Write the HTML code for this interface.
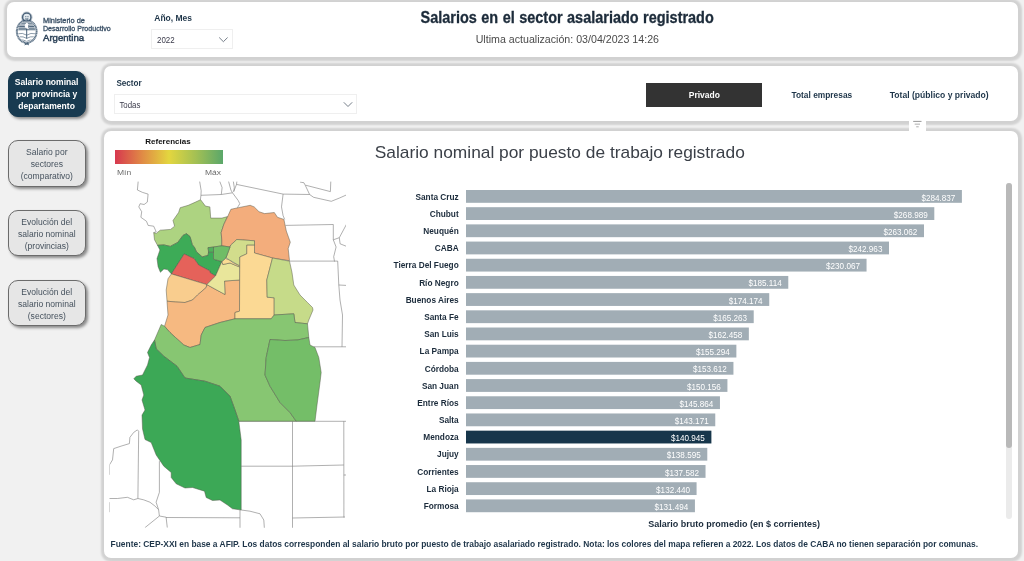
<!DOCTYPE html>
<html lang="es"><head><meta charset="utf-8"><title>Salarios en el sector asalariado registrado</title>
<style>
*{box-sizing:border-box;margin:0;padding:0}
html,body{width:1024px;height:561px;overflow:hidden}
body{background:#f1f1f1;font-family:"Liberation Sans",sans-serif;position:relative}
.panel{position:absolute;background:#fff;border-radius:7px;box-shadow:0.5px 0.5px 2px 3.2px rgba(0,0,0,.13)}
.nav{position:absolute;left:8.2px;width:77.4px;height:46.3px;border-radius:10px;background:#e6e6e6;border:1px solid #6b6b6b;box-shadow:2px 2px 3px #8a8a8a}
.nav.on{background:#183a50;border-color:#183a50}
.dd{position:absolute;border:1px solid #efefef;background:#fff}
svg{position:absolute;left:0;top:0}
</style></head><body>
<div class="panel" style="left:7px;top:2px;width:1011px;height:54.5px"></div>
<div class="panel" style="left:103.5px;top:66px;width:914.5px;height:55px"></div>
<div class="panel" style="left:103.5px;top:131.2px;width:914.5px;height:426.8px"></div>
<div class="nav on" style="top:70.5px;height:46.6px"></div>
<div class="nav" style="top:140.3px"></div>
<div class="nav" style="top:210px"></div>
<div class="nav" style="top:279.8px"></div>
<div class="dd" style="left:151.4px;top:29px;width:81.6px;height:19.8px"></div>
<div class="dd" style="left:114px;top:94.2px;width:243px;height:19.6px"></div>
<div style="position:absolute;left:646.4px;top:83px;width:115.6px;height:23.5px;background:#333"></div>
<div style="position:absolute;left:909px;top:117px;width:17px;height:18px;background:#fff"></div>
<div style="position:absolute;left:114.8px;top:149.6px;width:108.6px;height:14px;background:linear-gradient(90deg,#d7384f 0%,#e08a45 25%,#e3d63f 50%,#a3c054 75%,#5aa76a 100%)"></div>
<div style="position:absolute;left:1006.2px;top:183.2px;width:6px;height:336px;border-radius:3px;background:#ebebeb"></div>
<div style="position:absolute;left:1006.2px;top:183.2px;width:6px;height:265.3px;border-radius:3px;background:#b9b9b9"></div>
<svg width="1024" height="561" viewBox="0 0 1024 561">
<defs><clipPath id="mc"><rect x="109.5" y="181.4" width="236.5" height="346.4"/></clipPath></defs>
<g><rect x="466" y="190.00" width="495.90" height="12.8" fill="#a1adb5"/><rect x="466" y="207.19" width="468.31" height="12.8" fill="#a1adb5"/><rect x="466" y="224.38" width="457.99" height="12.8" fill="#a1adb5"/><rect x="466" y="241.57" width="423.00" height="12.8" fill="#a1adb5"/><rect x="466" y="258.76" width="400.55" height="12.8" fill="#a1adb5"/><rect x="466" y="275.95" width="322.28" height="12.8" fill="#a1adb5"/><rect x="466" y="293.14" width="303.24" height="12.8" fill="#a1adb5"/><rect x="466" y="310.33" width="287.72" height="12.8" fill="#a1adb5"/><rect x="466" y="327.52" width="282.84" height="12.8" fill="#a1adb5"/><rect x="466" y="344.71" width="270.37" height="12.8" fill="#a1adb5"/><rect x="466" y="361.90" width="267.44" height="12.8" fill="#a1adb5"/><rect x="466" y="379.09" width="261.42" height="12.8" fill="#a1adb5"/><rect x="466" y="396.28" width="253.95" height="12.8" fill="#a1adb5"/><rect x="466" y="413.47" width="249.26" height="12.8" fill="#a1adb5"/><rect x="466" y="430.66" width="245.39" height="12.8" fill="#17364b"/><rect x="466" y="447.85" width="241.29" height="12.8" fill="#a1adb5"/><rect x="466" y="465.04" width="239.53" height="12.8" fill="#a1adb5"/><rect x="466" y="482.23" width="230.58" height="12.8" fill="#a1adb5"/><rect x="466" y="499.42" width="228.93" height="12.8" fill="#a1adb5"/></g>
<g clip-path="url(#mc)">
<g fill="none" stroke="#7a7a7a" stroke-width="0.6" stroke-linejoin="round"><polyline points="138.2,181.2 137.4,190.0 142.5,192.4 148.1,194.1 147.3,202.1 144.1,204.5 140.1,203.7 138.8,206.9 141.7,211.7 140.9,217.3 146.5,221.3 148.1,225.4 153.7,226.2 156.2,231.8 153.7,232.6"/><polyline points="199.6,181.2 201.2,190.8 200.9,195.7 200.4,199.7"/><polyline points="200.9,195.3 221.3,194.5 232.5,192.8 238.2,200.5 239.8,203.7 237.4,207.7"/><polyline points="219.7,181.2 222.1,187.6 221.3,194.5"/><polyline points="228.5,181.2 230.9,190.0 232.5,192.8"/><polyline points="233.3,181.2 234.3,187.6 233.7,191.6 236.5,184.4 236.9,181.2"/><polyline points="236.5,184.4 283.1,194.1 309.6,194.5 313.6,197.3 331.3,201.3 339.3,198.1 346.5,194.9"/><polyline points="283.1,194.1 281.5,206.9 283.1,215.7 284.7,219.4"/><polyline points="300.0,182.0 304.0,182.8 305.6,186.0 309.6,194.5"/><polyline points="305.6,185.2 330.4,191.6 330.8,181.2"/><polyline points="285.5,225.4 333.3,224.5 333.3,239.8 336.1,247.0 333.7,256.7 334.5,261.5"/><polyline points="333.3,239.8 339.3,237.7 348.1,221.3"/><polyline points="339.3,237.7 340.1,243.8 348.1,247.0"/><polyline points="289.5,261.1 337.7,261.1 338.8,285.0 340.0,300.0 342.5,315.0 342.0,346.8"/><polyline points="338.8,285.0 348.0,285.5"/><polyline points="313.6,346.8 348.0,346.8"/><polyline points="238.8,421.3 348.0,421.3"/><polyline points="292.5,421.3 292.5,530.0"/><polyline points="343.8,421.3 343.9,517.5"/><polyline points="241.2,466.2 292.5,466.2 343.8,465.0"/><polyline points="343.8,475.0 346.0,475.0"/><polyline points="292.5,518.0 345.0,517.0"/><polyline points="241.2,510.0 250.0,511.2 260.0,513.8 263.8,520.0 264.5,530.0"/><polyline points="240.0,510.0 240.0,530.0"/><polyline points="166.0,517.5 240.0,517.8"/><polyline points="159.4,461.1 159.4,492.3 156.1,502.2 158.6,509.7 159.4,516.0 144.9,527.7"/><polyline points="159.4,516.0 166.1,517.2 167.3,527.7"/><polyline points="137.9,498.5 138.7,431.2 137.4,429.9 133.7,432.4 129.9,437.4 129.4,443.6 121.2,446.1 113.7,448.6 112.5,459.9 109.5,464.8 109.5,474.8"/><polyline points="107.5,498.5 117.5,498.5 127.4,497.3 133.7,499.8 137.9,498.5 143.6,499.8 149.9,502.2 154.9,506.0 158.6,509.7"/><polyline points="109.5,502.2 109.5,512.2"/></g>
<g stroke="#55564a" stroke-opacity="0.8" stroke-width="0.6" stroke-linejoin="round"><polygon points="153.7,232.6 156.2,233.4 160.2,230.2 170.6,229.4 174.6,226.2 173.0,220.5 178.6,212.5 180.2,207.7 188.3,205.3 195.5,202.1 200.6,199.7 205.4,206.1 209.9,206.9 210.7,218.1 222.0,218.1 227.6,216.5 223.8,224.5 221.2,232.5 221.8,240.0 221.8,245.8 214.0,247.0 208.0,247.8 208.8,251.8 208.0,255.4 202.2,256.9 196.4,251.7 194.6,247.6 192.3,244.7 190.0,236.6 186.5,233.7 183.0,235.4 177.8,242.4 170.3,246.4 163.9,244.9 157.5,245.3 154.5,239.8" fill="#add381"/><polygon points="227.7,216.5 230.9,209.3 238.2,207.7 250.2,205.3 254.2,206.9 259.0,211.7 264.6,213.6 274.3,212.5 277.5,217.3 283.9,219.4 286.3,231.0 290.3,242.2 288.2,248.6 289.5,260.7 272.5,258.0 254.5,253.0 254.5,240.8 236.8,239.5 230.8,245.0 230.0,247.0 221.8,245.8 221.8,240.0 221.2,232.5 223.8,224.5" fill="#f3ad7c"/><polygon points="157.5,245.3 163.9,244.9 170.3,246.4 177.8,242.4 183.0,235.4 186.5,233.7 190.0,236.6 192.3,244.7 194.6,247.6 196.4,251.7 202.2,256.9 208.0,255.4 208.5,252.2 213.5,252.2 213.5,259.2 221.9,261.5 215.5,276.0 210.3,272.8 209.7,270.8 198.7,265.0 194.0,258.6 184.2,254.0 171.4,273.9 167.4,269.6 163.9,269.0 160.4,272.3 158.1,266.7 157.0,258.6 159.9,249.9" fill="#3dab57"/><polygon points="184.2,254.0 194.0,258.6 198.7,265.0 209.7,270.8 210.3,272.8 215.5,276.0 206.8,284.6 171.4,273.9" fill="#e5625a"/><polygon points="171.4,273.9 206.8,284.6 206.2,287.5 197.5,295.0 192.5,300.0 185.0,302.5 175.5,302.0 167.0,301.2 166.2,290.0 168.0,278.8" fill="#f9cd8e"/><polygon points="206.8,284.6 225.0,294.5 224.5,281.0 239.6,280.0 239.5,311.2 235.0,312.5 235.0,318.8 220.0,322.5 205.0,327.5 201.2,335.0 200.0,344.5 190.0,347.5 183.8,345.0 175.5,337.5 170.0,332.5 164.5,326.2 168.0,315.0 167.0,301.2 175.5,302.0 185.0,302.5 192.5,300.0 197.5,295.0 206.2,287.5" fill="#f6b981"/><polygon points="222.8,264.5 230.0,263.0 239.6,267.0 239.6,280.0 224.5,281.0 225.0,294.5 206.8,284.6 215.5,276.0 221.9,261.5" fill="#e9e69b"/><polygon points="225.5,258.5 229.5,260.0 232.8,262.5 239.6,265.8 239.6,267.0 230.0,263.0 222.8,264.5 221.9,261.5" fill="#fbdc93"/><polygon points="230.8,245.0 236.8,239.5 254.5,240.8 254.5,245.2 246.8,245.2 246.8,253.8 239.8,257.0 239.6,265.8 229.5,260.0 226.0,257.8 230.0,247.0" fill="#d2dd8c"/><polygon points="213.5,247.0 221.8,245.8 230.0,247.0 226.0,257.8 221.9,261.5 213.5,259.2" fill="#6fbd66"/><polygon points="208.0,247.6 213.5,247.0 213.5,252.2 208.5,252.2" fill="#52b05c"/><polygon points="239.8,257.0 246.8,253.8 246.8,245.2 254.5,245.2 254.5,253.0 272.5,258.0 266.8,280.0 267.2,297.2 274.2,297.8 274.2,315.0 271.2,318.8 235.0,318.8 235.0,312.5 239.5,311.2" fill="#fbd994"/><polygon points="272.5,258.0 289.5,261.2 292.0,272.5 293.8,285.0 300.0,295.0 307.5,302.5 312.5,307.5 313.0,310.0 308.8,320.0 307.5,323.8 295.0,322.5 293.8,313.8 274.2,315.0 274.2,297.8 267.2,297.2 266.8,280.0" fill="#c6db89"/><polygon points="161.2,324.5 164.5,326.2 170.0,332.5 175.5,337.5 183.8,345.0 190.0,347.5 200.0,344.5 201.2,335.0 205.0,327.5 220.0,322.5 235.0,318.8 271.2,318.8 274.2,315.0 293.8,313.8 295.0,322.5 307.5,323.8 308.8,337.5 297.5,340.0 285.0,340.5 270.0,339.5 266.2,357.5 265.0,375.0 270.0,386.2 280.0,402.5 290.0,412.5 296.2,421.2 238.8,421.2 235.0,410.0 230.0,396.2 220.0,386.2 205.0,381.2 185.0,378.0 177.0,366.2 163.8,356.2 156.2,348.8 154.5,340.0" fill="#87c672"/><polygon points="308.8,337.5 310.0,345.0 315.0,347.5 318.8,357.5 321.2,372.5 320.0,382.5 317.0,405.0 315.0,421.2 296.2,421.2 290.0,412.5 280.0,402.5 270.0,386.2 265.0,375.0 266.2,357.5 270.0,339.5 285.0,340.5 297.5,340.0" fill="#74be68"/><polygon points="154.5,340.0 156.2,348.8 163.8,356.2 177.0,366.2 185.0,378.0 205.0,381.2 220.0,386.2 230.0,396.2 235.0,410.0 238.8,421.2 241.2,440.0 241.2,510.0 232.5,508.8 227.5,505.0 220.0,500.0 212.5,500.5 206.2,497.5 204.5,491.2 192.5,487.5 185.0,488.0 176.2,483.8 171.2,477.5 171.2,472.5 163.8,466.2 156.2,455.0 151.2,442.5 145.0,439.5 142.5,428.8 142.0,415.0 145.0,410.0 142.0,400.0 143.8,395.0 141.2,385.0 136.2,381.2 133.8,378.8 136.2,376.2 142.5,375.0 147.5,365.0 149.5,357.5 147.5,352.5 151.2,345.0" fill="#3ca856"/></g>
</g>
<g fill="none" stroke="#646e7a" stroke-width="0.9"><path d="M219.2 37.500l4.200 4.200 4.200-4.200"/><path d="M343.800 102.300l4.200 4.200 4.200-4.200"/></g>
<g stroke="#7d7d7d" stroke-width="0.8"><path d="M913.200 121.400h8.300"/><path d="M914.700 124.150h5.300M916.200 126.800h2.500" stroke="#999"/></g>
<g id="logo" fill="none" stroke="#36516a">
<clipPath id="ov"><ellipse cx="26.7" cy="31.3" rx="8.7" ry="10.2"/></clipPath>
<circle cx="26.8" cy="17.2" r="5.3" stroke-width=".7" stroke-dasharray="0.5 0.5" stroke-opacity=".7"/>
<circle cx="26.8" cy="17.2" r="4.2" stroke-width="1.5" stroke-opacity=".9" fill="#e3eaef"/>
<path d="M25.100 16.700h1.300M27.300 16.700h1.300M25.300 18.600q1.500.7 3 0" stroke-width=".7"/>
<ellipse cx="26.7" cy="31.500" rx="9.8" ry="11.2" stroke-width="2.1" stroke-dasharray="1.2 0.3" stroke-opacity=".78"/>
<ellipse cx="26.7" cy="31.3" rx="8.700" ry="10.200" stroke="none" fill="#fff"/>
<g clip-path="url(#ov)" stroke-width="1.05" stroke-opacity=".85"><path d="M17 21.700h20M17 23.300h20M17 24.900h20M17 26.500h20M17 28.100h20M17 29.700h20"/>
<path d="M18 33.800q4.500-1.400 8.700 1.400q4.200-2.800 8.700-1.400M19.500 36.800q3.600-.6 7.200 1.600q3.600-2.200 7.200-1.600M21 39.800q3 .2 5.700 1.600q2.700-1.400 5.700-1.600" stroke-width=".75" stroke-opacity=".75"/></g>
<path d="M26.700 27v11.500" stroke-width=".9"/>
<path d="M25.400 27.300q-1-2.700 1.400-4.200q1.900 1 1.300 2.800q1.300.9.600 2.300q-1.900.5-3.300-.9z" fill="#fff" stroke="#fff" stroke-width="1"/>
<path d="M28.700 25.300v2.500" stroke-width=".8"/>
<path d="M24.600 43l4.400 1.900M29 43l-4.400 1.900" stroke-width=".85"/>
</g>

<g font-family="Liberation Sans, sans-serif">
<text x="43.00" y="22.50" font-size="7" fill="#3a5066" textLength="41.90" lengthAdjust="spacingAndGlyphs" stroke="#3a5066" stroke-width="0.3">Ministerio de</text><text x="43.00" y="30.70" font-size="7" fill="#3a5066" textLength="67.70" lengthAdjust="spacingAndGlyphs" stroke="#3a5066" stroke-width="0.3">Desarrollo Productivo</text><text x="43.00" y="40.50" font-size="8.8" fill="#2c4258" textLength="41.10" lengthAdjust="spacingAndGlyphs" stroke="#2c4258" stroke-width="0.45">Argentina</text><text x="154.30" y="20.60" font-size="9.4" font-weight='700' fill="#1e3549" textLength="37.70" lengthAdjust="spacingAndGlyphs">Año, Mes</text><text x="157.00" y="43.40" font-size="8.8" fill="#3a3a4a" textLength="17.60" lengthAdjust="spacingAndGlyphs">2022</text><text x="420.60" y="23.00" font-size="15.9" font-weight='700' fill="#1c2b3a" textLength="293.20" lengthAdjust="spacingAndGlyphs" word-spacing="0.5" stroke="#1c2b3a" stroke-width="0.3">Salarios en el sector asalariado registrado</text><text x="475.70" y="43.20" font-size="11.3" fill="#4a4a4a" textLength="183.30" lengthAdjust="spacingAndGlyphs">Ultima actualización: 03/04/2023 14:26</text><text x="14.74" y="85.00" font-size="9.2" font-weight='700' fill="#fff" textLength="63.71" lengthAdjust="spacingAndGlyphs">Salario nominal</text><text x="15.93" y="97.20" font-size="9.2" font-weight='700' fill="#fff" textLength="61.33" lengthAdjust="spacingAndGlyphs">por provincia y</text><text x="18.31" y="108.80" font-size="9.2" font-weight='700' fill="#fff" textLength="56.58" lengthAdjust="spacingAndGlyphs">departamento</text><text x="26.11" y="155.00" font-size="9.2" fill="#45515d" textLength="41.38" lengthAdjust="spacingAndGlyphs">Salario por</text><text x="30.63" y="167.00" font-size="9.2" fill="#45515d" textLength="32.34" lengthAdjust="spacingAndGlyphs">sectores</text><text x="20.65" y="179.00" font-size="9.2" fill="#45515d" textLength="52.30" lengthAdjust="spacingAndGlyphs">(comparativo)</text><text x="21.35" y="225.00" font-size="9.2" fill="#45515d" textLength="50.89" lengthAdjust="spacingAndGlyphs">Evolución del</text><text x="18.03" y="237.00" font-size="9.2" fill="#45515d" textLength="57.55" lengthAdjust="spacingAndGlyphs">salario nominal</text><text x="24.69" y="249.00" font-size="9.2" fill="#45515d" textLength="44.22" lengthAdjust="spacingAndGlyphs">(provincias)</text><text x="21.35" y="295.00" font-size="9.2" fill="#45515d" textLength="50.89" lengthAdjust="spacingAndGlyphs">Evolución del</text><text x="18.03" y="307.00" font-size="9.2" fill="#45515d" textLength="57.55" lengthAdjust="spacingAndGlyphs">salario nominal</text><text x="27.78" y="319.00" font-size="9.2" fill="#45515d" textLength="38.04" lengthAdjust="spacingAndGlyphs">(sectores)</text><text x="116.40" y="85.80" font-size="9.4" font-weight='700' fill="#1e3549" textLength="25.30" lengthAdjust="spacingAndGlyphs">Sector</text><text x="119.40" y="107.90" font-size="8.8" fill="#3a3a4a" textLength="21.00" lengthAdjust="spacingAndGlyphs">Todas</text><text x="688.80" y="98.00" font-size="9" font-weight='700' fill="#fff" textLength="31.10" lengthAdjust="spacingAndGlyphs">Privado</text><text x="791.50" y="98.00" font-size="9" font-weight='700' fill="#1e3549" textLength="60.70" lengthAdjust="spacingAndGlyphs">Total empresas</text><text x="889.70" y="98.00" font-size="9" font-weight='700' fill="#1e3549" textLength="99.00" lengthAdjust="spacingAndGlyphs">Total (público y privado)</text><text x="145.30" y="143.60" font-size="7.8" font-weight='700' fill="#111" textLength="45.30" lengthAdjust="spacingAndGlyphs">Referencias</text><text x="117.00" y="174.60" font-size="7.4" fill="#6a6a6a" textLength="14.20" lengthAdjust="spacingAndGlyphs">Mín</text><text x="205.00" y="174.60" font-size="7.4" fill="#6a6a6a" textLength="16.00" lengthAdjust="spacingAndGlyphs">Máx</text><text x="374.80" y="158.00" font-size="16.6" fill="#3b4048" textLength="370.00" lengthAdjust="spacingAndGlyphs">Salario nominal por puesto de trabajo registrado</text><text x="415.47" y="199.60" font-size="8.9" font-weight='700' fill="#1b2b3b" textLength="43.23" lengthAdjust="spacingAndGlyphs">Santa Cruz</text><text x="921.44" y="200.50" font-size="8.5" fill="#fff" textLength="33.86" lengthAdjust="spacingAndGlyphs">$284.837</text><text x="429.74" y="216.79" font-size="8.9" font-weight='700' fill="#1b2b3b" textLength="28.96" lengthAdjust="spacingAndGlyphs">Chubut</text><text x="893.85" y="217.69" font-size="8.5" fill="#fff" textLength="33.86" lengthAdjust="spacingAndGlyphs">$268.989</text><text x="423.29" y="233.98" font-size="8.9" font-weight='700' fill="#1b2b3b" textLength="35.41" lengthAdjust="spacingAndGlyphs">Neuquén</text><text x="883.53" y="234.88" font-size="8.5" fill="#fff" textLength="33.86" lengthAdjust="spacingAndGlyphs">$263.062</text><text x="434.79" y="251.17" font-size="8.9" font-weight='700' fill="#1b2b3b" textLength="23.91" lengthAdjust="spacingAndGlyphs">CABA</text><text x="848.54" y="252.07" font-size="8.5" fill="#fff" textLength="33.86" lengthAdjust="spacingAndGlyphs">$242.963</text><text x="393.54" y="268.36" font-size="8.9" font-weight='700' fill="#1b2b3b" textLength="65.16" lengthAdjust="spacingAndGlyphs">Tierra Del Fuego</text><text x="826.09" y="269.26" font-size="8.5" fill="#fff" textLength="33.86" lengthAdjust="spacingAndGlyphs">$230.067</text><text x="419.15" y="285.55" font-size="8.9" font-weight='700' fill="#1b2b3b" textLength="39.55" lengthAdjust="spacingAndGlyphs">Río Negro</text><text x="748.43" y="286.45" font-size="8.5" fill="#fff" textLength="33.26" lengthAdjust="spacingAndGlyphs">$185.114</text><text x="405.65" y="302.74" font-size="8.9" font-weight='700' fill="#1b2b3b" textLength="53.05" lengthAdjust="spacingAndGlyphs">Buenos Aires</text><text x="728.78" y="303.64" font-size="8.5" fill="#fff" textLength="33.86" lengthAdjust="spacingAndGlyphs">$174.174</text><text x="424.20" y="319.93" font-size="8.9" font-weight='700' fill="#1b2b3b" textLength="34.50" lengthAdjust="spacingAndGlyphs">Santa Fe</text><text x="713.26" y="320.83" font-size="8.5" fill="#fff" textLength="33.86" lengthAdjust="spacingAndGlyphs">$165.263</text><text x="424.20" y="337.12" font-size="8.9" font-weight='700' fill="#1b2b3b" textLength="34.50" lengthAdjust="spacingAndGlyphs">San Luis</text><text x="708.38" y="338.02" font-size="8.5" fill="#fff" textLength="33.86" lengthAdjust="spacingAndGlyphs">$162.458</text><text x="419.60" y="354.31" font-size="8.9" font-weight='700' fill="#1b2b3b" textLength="39.10" lengthAdjust="spacingAndGlyphs">La Pampa</text><text x="695.91" y="355.21" font-size="8.5" fill="#fff" textLength="33.86" lengthAdjust="spacingAndGlyphs">$155.294</text><text x="424.67" y="371.50" font-size="8.9" font-weight='700' fill="#1b2b3b" textLength="34.03" lengthAdjust="spacingAndGlyphs">Córdoba</text><text x="692.98" y="372.40" font-size="8.5" fill="#fff" textLength="33.86" lengthAdjust="spacingAndGlyphs">$153.612</text><text x="421.90" y="388.69" font-size="8.9" font-weight='700' fill="#1b2b3b" textLength="36.80" lengthAdjust="spacingAndGlyphs">San Juan</text><text x="686.96" y="389.59" font-size="8.5" fill="#fff" textLength="33.86" lengthAdjust="spacingAndGlyphs">$150.156</text><text x="417.31" y="405.88" font-size="8.9" font-weight='700' fill="#1b2b3b" textLength="41.39" lengthAdjust="spacingAndGlyphs">Entre Ríos</text><text x="679.49" y="406.78" font-size="8.5" fill="#fff" textLength="33.86" lengthAdjust="spacingAndGlyphs">$145.864</text><text x="438.92" y="423.07" font-size="8.9" font-weight='700' fill="#1b2b3b" textLength="19.78" lengthAdjust="spacingAndGlyphs">Salta</text><text x="674.80" y="423.97" font-size="8.5" fill="#fff" textLength="33.86" lengthAdjust="spacingAndGlyphs">$143.171</text><text x="423.29" y="440.26" font-size="8.9" font-weight='700' fill="#1b2b3b" textLength="35.41" lengthAdjust="spacingAndGlyphs">Mendoza</text><text x="670.93" y="441.16" font-size="8.5" fill="#fff" textLength="33.86" lengthAdjust="spacingAndGlyphs">$140.945</text><text x="437.08" y="457.45" font-size="8.9" font-weight='700' fill="#1b2b3b" textLength="21.62" lengthAdjust="spacingAndGlyphs">Jujuy</text><text x="666.84" y="458.35" font-size="8.5" fill="#fff" textLength="33.86" lengthAdjust="spacingAndGlyphs">$138.595</text><text x="417.30" y="474.64" font-size="8.9" font-weight='700' fill="#1b2b3b" textLength="41.40" lengthAdjust="spacingAndGlyphs">Corrientes</text><text x="665.07" y="475.54" font-size="8.5" fill="#fff" textLength="33.86" lengthAdjust="spacingAndGlyphs">$137.582</text><text x="426.51" y="491.83" font-size="8.9" font-weight='700' fill="#1b2b3b" textLength="32.19" lengthAdjust="spacingAndGlyphs">La Rioja</text><text x="656.12" y="492.73" font-size="8.5" fill="#fff" textLength="33.86" lengthAdjust="spacingAndGlyphs">$132.440</text><text x="423.74" y="509.02" font-size="8.9" font-weight='700' fill="#1b2b3b" textLength="34.96" lengthAdjust="spacingAndGlyphs">Formosa</text><text x="654.47" y="509.92" font-size="8.5" fill="#fff" textLength="33.86" lengthAdjust="spacingAndGlyphs">$131.494</text><text x="648.30" y="527.00" font-size="8.9" font-weight='700' fill="#1b2b3b" textLength="171.70" lengthAdjust="spacingAndGlyphs">Salario bruto promedio (en $ corrientes)</text><text x="110.60" y="547.00" font-size="8.9" font-weight='700' fill="#1e3549" textLength="867.40" lengthAdjust="spacingAndGlyphs">Fuente: CEP-XXI en base a AFIP. Los datos corresponden al salario bruto por puesto de trabajo asalariado registrado. Nota: los colores del mapa refieren a 2022. Los datos de CABA no tienen separación por comunas.</text>
</g>
</svg>
</body></html>
